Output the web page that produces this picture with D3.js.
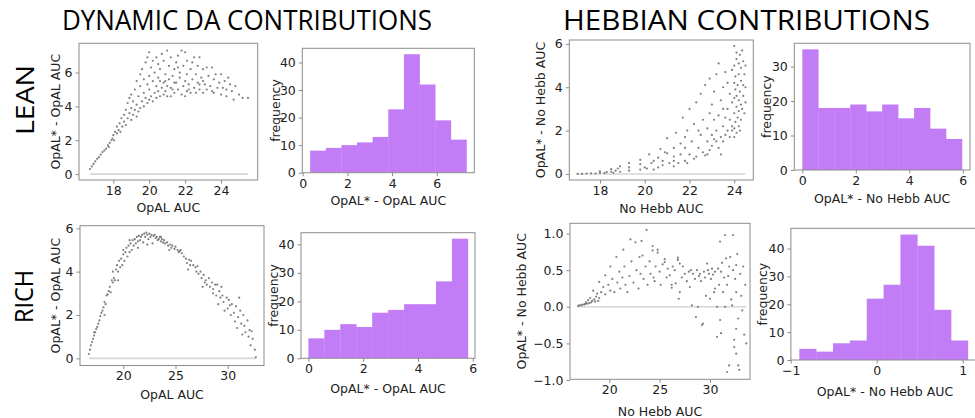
<!DOCTYPE html>
<html>
<head>
<meta charset="utf-8">
<script src="https://cdn.jsdelivr.net/npm/d3@7"></script>
<style>
  body { margin: 0; background: #fff; }
  svg { display: block; }
  text { font-family: "DejaVu Sans", sans-serif; fill: #222; }
</style>
</head>
<body>
<svg id="chart" width="975" height="418"></svg>
<script>
// ---- LEAN environment, dynamic DA: [OpAL AUC, OpAL* - OpAL AUC]
const leanDaPoints = [
  [16.7,0.3],[16.8,0.45],[16.9,0.6],[17.0,0.75],[17.1,0.9],[17.2,1.0],[17.3,1.15],[17.4,1.3],[17.5,1.4],[17.6,1.5],
  [17.7,1.7],[17.8,1.85],[17.9,2.0],[17.75,1.6],[17.95,2.1],[18.0,2.3],[18.05,2.0],[18.1,2.5],[18.2,2.4],[18.2,2.8],
  [18.3,2.6],[18.35,3.0],[18.4,2.5],[18.45,3.3],[18.5,2.8],[18.6,3.1],[18.6,3.5],[18.7,2.9],[18.7,3.8],[18.8,3.3],
  [18.8,4.2],[18.9,3.6],[18.9,4.5],[19.0,3.2],[19.0,3.9],[19.0,4.7],[19.1,3.5],[19.1,4.3],[19.2,3.8],[19.2,5.0],
  [19.3,3.4],[19.3,4.1],[19.3,5.5],[19.4,3.7],[19.4,4.6],[19.5,3.9],[19.5,5.2],[19.5,5.9],[19.6,4.3],[19.6,6.2],
  [19.7,4.0],[19.7,4.8],[19.7,5.6],[19.8,4.5],[19.8,6.6],[19.9,4.2],[19.9,5.3],[19.9,6.9],[20.0,4.4],[20.0,5.0],
  [20.0,5.8],[20.0,7.2],[20.1,4.6],[20.1,6.3],[20.2,4.3],[20.2,5.5],[20.2,6.7],[20.3,4.8],[20.3,6.0],[20.4,4.5],
  [20.4,5.2],[20.4,6.9],[20.5,4.9],[20.5,5.7],[20.5,6.5],[20.6,4.6],[20.6,6.2],[20.7,5.1],[20.7,7.1],[20.8,4.7],
  [20.8,5.4],[20.8,6.7],[20.9,5.9],[20.9,4.9],[21.0,7.3],[21.0,5.2],[21.0,4.6],[21.1,6.4],[21.1,5.6],[21.2,4.6],
  [21.2,6.9],[21.3,5.0],[21.3,5.8],[21.4,6.2],[21.4,4.8],[21.5,6.6],[21.5,5.4],[21.6,5.0],[21.6,7.0],[21.7,5.7],
  [21.7,6.0],[21.8,4.7],[21.8,7.3],[21.9,5.2],[21.9,6.4],[22.0,5.5],[22.0,4.6],[22.0,7.2],[22.1,5.9],[22.1,6.7],
  [22.2,5.0],[22.2,5.3],[22.3,6.2],[22.3,4.8],[22.4,5.6],[22.5,6.9],[22.5,5.1],[22.6,5.9],[22.6,4.8],[22.7,5.4],
  [22.7,6.4],[22.8,6.9],[22.8,5.0],[22.9,5.7],[23.0,4.8],[23.0,6.2],[23.1,5.3],[23.2,6.3],[23.2,5.0],[23.3,5.8],
  [23.4,5.2],[23.5,6.3],[23.5,4.9],[23.6,5.6],[23.7,5.9],[23.8,5.1],[23.9,5.4],[24.0,5.9],[24.0,4.7],[24.1,5.1],
  [24.2,5.5],[24.3,4.6],[24.3,5.0],[24.5,5.3],[24.6,4.9],[24.7,4.4],[24.8,5.2],[25.0,4.7],[25.2,4.5],[25.5,4.5],
  [22.4,6.6],[21.6,6.3],[23.0,5.5],[20.6,5.5],[21.2,5.1],[22.8,5.3],[23.6,4.8],[24.4,5.7],[21.4,5.4],[22.1,4.9],
  [20.9,5.5]
];
const leanDaCounts = [8, 9, 10, 11, 13, 23, 43, 32, 19, 12];
const leanDaBinRange = [0.33, 7.33];

// ---- LEAN environment, Hebbian: [No Hebb AUC, OpAL* - No Hebb AUC]
const leanHebbPoints = [
  [17.0,0.0],[17.2,0.0],[17.4,0.02],[17.6,0.03],[17.8,0.02],[18.0,0.05],[18.0,0.12],[18.2,0.04],[18.3,0.08],[18.5,0.1],
  [18.5,0.22],[18.6,0.05],[18.7,0.15],[18.8,0.25],[18.9,0.1],[18.9,0.35],[19.3,0.15],[19.3,0.3],[19.3,0.5],[19.8,0.2],
  [19.8,0.45],[19.8,0.65],[20.0,0.3],[20.1,0.25],[20.2,0.9],[20.3,0.5],[20.4,0.2],[20.4,0.6],[20.6,0.3],[20.6,0.75],
  [20.7,1.15],[20.8,0.4],[20.8,0.6],[21.0,1.65],[21.0,0.95],[21.3,0.35],[21.3,0.6],[21.3,0.8],[21.3,1.2],[21.4,1.9],
  [21.5,0.5],[21.6,0.9],[21.6,1.4],[21.7,2.6],[21.8,0.6],[21.8,1.2],[21.9,0.5],[21.9,2.0],[22.0,3.0],[22.0,0.9],
  [22.1,1.5],[22.2,2.3],[22.3,3.3],[22.3,0.8],[22.4,1.2],[22.5,1.8],[22.5,3.7],[22.6,2.5],[22.6,1.0],[22.7,4.1],
  [22.8,0.9],[22.8,1.5],[22.8,2.1],[22.9,2.8],[22.9,4.4],[23.0,1.3],[23.0,1.8],[23.0,3.2],[23.1,2.5],[23.1,3.8],
  [23.2,1.5],[23.2,2.0],[23.2,4.6],[23.3,1.2],[23.3,2.7],[23.3,5.1],[23.4,1.7],[23.4,3.4],[23.5,2.2],[23.5,4.0],
  [23.5,1.5],[23.6,2.6],[23.6,4.7],[23.6,1.8],[23.7,3.0],[23.7,2.0],[23.7,4.2],[23.8,1.7],[23.8,2.5],[23.8,3.7],
  [23.9,2.2],[23.9,3.3],[23.9,4.8],[24.0,1.7],[24.0,2.1],[24.0,2.8],[24.0,3.5],[24.0,4.2],[24.0,5.0],[24.0,5.9],
  [24.05,2.4],[24.05,3.9],[24.05,4.5],[24.1,1.9],[24.1,3.1],[24.1,3.6],[24.1,5.3],[24.1,5.6],[24.15,2.6],[24.15,4.1],
  [24.2,2.2],[24.2,2.9],[24.2,3.4],[24.2,4.6],[24.2,5.1],[24.25,3.8],[24.25,5.5],[24.3,2.5],[24.3,3.2],[24.3,4.3],
  [24.3,4.9],[24.35,5.7],[24.35,3.0],[24.4,3.6],[24.4,4.1],[24.4,5.2],[24.45,2.8],[24.45,4.6],[24.5,3.3],[24.5,5.0],
  [24.5,4.0],[23.4,0.9],[22.9,1.1],[22.2,0.7],[21.1,0.5],[20.9,1.0],[22.7,0.85],[23.1,1.6],[23.9,2.0],[24.25,2.0],
  [23.5,3.0],[22.4,2.0],[21.8,1.7]
];
const leanHebbCounts = [35, 18, 18, 19, 17, 19, 15, 18, 12, 9];
const leanHebbBinRange = [0.0, 5.97];

// ---- RICH environment, dynamic DA: [OpAL AUC, OpAL* - OpAL AUC]
const richDaPoints = [
  [16.7,0.2],[16.8,0.4],[16.9,0.6],[17.0,0.75],[17.1,0.9],[17.2,1.05],[17.3,1.2],[17.4,1.35],[17.5,1.45],[17.6,1.6],
  [17.7,1.75],[17.8,1.95],[17.9,2.1],[18.0,2.2],[18.1,2.35],[18.2,2.6],[18.3,2.5],[18.4,2.9],[18.5,2.95],[18.6,3.1],
  [18.7,3.3],[18.8,3.05],[18.9,3.6],[19.0,3.5],[19.0,4.0],[19.1,3.7],[19.2,3.6],[19.3,4.1],[19.4,4.3],[19.5,4.0],
  [19.6,4.5],[19.7,4.2],[19.8,4.6],[19.9,4.3],[20.0,4.8],[20.0,5.0],[20.1,4.5],[20.2,4.9],[20.3,5.1],[20.4,4.7],
  [20.5,5.2],[20.6,4.9],[20.7,5.3],[20.8,5.0],[20.9,5.45],[21.0,5.2],[21.1,5.5],[21.2,5.3],[21.3,5.6],[21.4,5.4],
  [21.5,5.65],[21.6,5.45],[21.7,5.6],[21.8,5.7],[21.9,5.35],[22.0,5.75],[22.1,5.6],[22.2,5.8],[22.3,5.7],[22.4,5.5],
  [22.5,5.75],[22.6,5.6],[22.7,5.7],[22.8,5.3],[22.9,5.65],[23.0,5.7],[23.1,5.55],[23.2,5.6],[23.3,5.45],[23.4,5.5],
  [23.5,5.6],[23.6,5.4],[23.7,5.5],[23.8,5.35],[23.9,5.45],[24.0,5.3],[24.2,5.35],[24.3,5.2],[24.5,5.25],[24.6,5.1],
  [24.7,5.2],[24.9,5.05],[25.0,5.15],[25.2,5.0],[25.3,4.9],[25.5,5.0],[25.6,4.85],[25.8,4.7],[26.0,4.6],[26.1,4.4],
  [26.2,4.1],[26.3,4.55],[26.5,4.5],[26.7,4.3],[26.9,4.2],[27.0,4.0],[27.1,4.25],[27.2,3.9],[27.4,4.0],[27.5,3.7],
  [27.6,3.3],[27.7,3.85],[27.9,3.6],[28.0,3.4],[28.2,3.7],[28.3,3.3],[28.5,3.5],[28.6,3.2],[28.8,3.4],[28.9,2.9],
  [29.0,3.4],[29.1,2.5],[29.2,3.1],[29.3,2.8],[29.5,2.9],[29.6,2.6],[29.7,2.2],[29.9,2.8],[30.0,2.3],[30.1,2.7],
  [30.3,2.0],[30.4,2.5],[30.6,2.1],[30.7,1.7],[30.8,2.4],[30.9,1.4],[31.0,1.9],[31.2,2.2],[31.3,1.6],[31.4,1.1],
  [31.5,2.0],[31.6,1.5],[31.7,1.2],[31.9,1.75],[32.0,1.0],[32.1,1.3],[32.2,0.6],[32.3,1.25],[32.4,0.9],[32.6,0.4],
  [32.7,0.05],[19.5,3.6],[20.6,5.45],[21.4,5.1],[22.3,5.25],[23.6,5.6],[24.4,5.0],[25.4,4.95],[26.4,4.3],[27.8,3.5],
  [28.6,3.0],[29.4,3.3],[30.2,2.45],[31.1,2.8],[18.2,2.0],[17.2,1.2]
];
const richDaCounts = [7, 10, 12, 11, 16, 17, 19, 19, 27, 42];
const richDaBinRange = [0.0, 5.82];

// ---- RICH environment, Hebbian: [No Hebb AUC, OpAL* - No Hebb AUC]
const richHebbPoints = [
  [16.9,0.01],[17.0,0.02],[17.2,0.02],[17.3,0.03],[17.5,0.03],[17.6,0.04],[17.7,0.06],[17.8,0.04],[17.9,0.09],[18.0,0.05],
  [18.1,0.12],[18.2,0.06],[18.3,0.08],[18.4,0.22],[18.5,0.1],[18.6,0.07],[18.7,0.14],[18.8,0.18],[18.9,0.08],[19.0,0.34],
  [19.0,0.12],[19.2,0.2],[19.4,0.27],[19.6,0.43],[19.6,0.17],[19.9,0.3],[20.1,0.55],[20.1,0.22],[20.3,0.38],[20.5,0.2],
  [20.7,0.68],[20.8,0.33],[21.0,0.48],[21.1,0.25],[21.4,0.78],[21.5,0.55],[21.6,0.3],[21.8,0.2],[22.0,0.42],[22.1,0.92],
  [22.2,0.62],[22.4,0.33],[22.6,0.88],[22.7,0.5],[22.9,0.25],[23.0,0.68],[23.2,0.9],[23.3,0.7],[23.4,0.38],[23.6,0.55],
  [23.7,1.05],[23.8,0.3],[24.0,0.62],[24.1,0.45],[24.3,0.83],[24.3,0.77],[24.5,0.35],[24.6,0.55],[24.8,0.78],[24.8,0.74],
  [25.0,0.48],[25.1,0.3],[25.3,0.58],[25.5,0.65],[25.5,0.61],[25.7,0.4],[26.0,0.43],[26.2,0.3],[26.2,0.26],[26.3,0.55],
  [26.5,0.5],[26.8,0.67],[26.8,0.64],[26.9,0.11],[27.0,0.59],[27.0,0.2],[27.2,0.4],[27.5,0.45],[27.7,0.35],[27.9,0.48],
  [28.0,0.27],[28.1,0.5],[28.2,0.02],[28.3,0.45],[28.5,0.38],[28.6,-0.14],[28.7,0.5],[28.8,0.0],[28.9,0.42],[29.0,0.45],
  [29.1,0.35],[29.2,-0.25],[29.3,-0.23],[29.4,0.48],[29.5,0.4],[29.7,0.59],[29.8,0.5],[29.9,0.45],[30.0,0.11],[30.1,0.38],
  [30.2,0.52],[30.3,0.44],[30.4,0.2],[30.5,0.48],[30.7,0.0],[30.7,-0.41],[30.8,0.52],[30.9,0.3],[31.0,-0.18],[31.0,0.89],
  [31.1,-0.36],[31.1,0.48],[31.2,0.6],[31.3,0.2],[31.4,0.4],[31.5,0.98],[31.5,0.0],[31.6,0.66],[31.7,-0.89],[31.7,0.3],
  [31.8,0.42],[31.9,-0.8],[31.9,0.55],[32.0,0.68],[32.1,0.1],[32.2,0.02],[32.3,0.98],[32.3,0.5],[32.4,-0.45],[32.4,-0.55],
  [32.5,0.38],[32.6,0.57],[32.6,0.2],[32.6,-0.3],[32.6,-0.64],[32.7,0.72],[32.8,-0.16],[32.8,-0.8],[32.9,-0.86],[33.0,0.45],
  [33.1,0.15],[33.2,-0.05],[33.3,0.55],[33.4,-0.38],[33.5,0.3],[33.6,-0.5],[30.5,0.25],[29.6,0.15],[27.3,0.55],[26.6,0.32],
  [25.8,0.52],[24.4,0.4],[23.1,0.45],[21.3,0.4]
];
const richHebbCounts = [4, 3, 6, 7, 22, 27, 45, 41, 18, 7];
const richHebbBinRange = [-0.9, 1.06];

// ---- text
const columnTitles = ["DYNAMIC DA CONTRIBUTIONS", "HEBBIAN CONTRIBUTIONS"];
const rowTitles = ["LEAN", "RICH"];

// ---- panel layout (pixel boxes: left, top, right, bottom)
const panels = [
  { kind: "scatter", pts: leanDaPoints, box: [79, 43.3, 257.7, 180], xd: [16.09, 26.04], yd: [-0.35, 7.73],
    xt: [18, 20, 22, 24], yt: [0, 2, 4, 6], fy: d3.format("d"), fx: d3.format("d"),
    xl: "OpAL AUC", yl: "OpAL* - OpAL AUC", xlY: 207, ylX: 55 },
  { kind: "hist", counts: leanDaCounts, range: leanDaBinRange, box: [302.3, 48.3, 474.3, 172.7], xd: [-0.02, 7.68], yd: [0, 45.15],
    xt: [0, 2, 4, 6], yt: [0, 10, 20, 30, 40], fy: d3.format("d"), fx: d3.format("d"),
    xl: "OpAL* - OpAL AUC", yl: "frequency", xlY: 200, ylX: 275 },
  { kind: "scatter", pts: leanHebbPoints, box: [569.3, 40, 753.3, 180], xd: [16.63, 24.85], yd: [-0.28, 6.18],
    xt: [18, 20, 22, 24], yt: [0, 2, 4, 6], fy: d3.format("d"), fx: d3.format("d"),
    xl: "No Hebb AUC", yl: "OpAL* - No Hebb AUC", xlY: 208, ylX: 540.5 },
  { kind: "hist", counts: leanHebbCounts, range: leanHebbBinRange, box: [794.3, 43.3, 970, 170], xd: [-0.3, 6.27], yd: [0, 36.75],
    xt: [0, 2, 4, 6], yt: [0, 10, 20, 30], fy: d3.format("d"), fx: d3.format("d"),
    xl: "OpAL* - No Hebb AUC", yl: "frequency", xlY: 198, ylX: 766.5 },
  { kind: "scatter", pts: richDaPoints, box: [80, 225.7, 264, 365.5], xd: [15.85, 33.48], yd: [-0.33, 6.12],
    xt: [20, 25, 30], yt: [0, 2, 4, 6], fy: d3.format("d"), fx: d3.format("d"),
    xl: "OpAL AUC", yl: "OpAL* - OpAL AUC", xlY: 394, ylX: 55 },
  { kind: "hist", counts: richDaCounts, range: richDaBinRange, box: [301, 232.7, 475, 358.3], xd: [-0.27, 6.08], yd: [0, 44.1],
    xt: [0, 2, 4, 6], yt: [0, 10, 20, 30, 40], fy: d3.format("d"), fx: d3.format("d"),
    xl: "OpAL* - OpAL AUC", yl: "frequency", xlY: 388, ylX: 273.5 },
  { kind: "scatter", pts: richHebbPoints, box: [570, 223.3, 750, 379.3], xd: [16.1, 33.97], yd: [-0.99, 1.14],
    xt: [20, 25, 30], yt: [-1, -0.5, 0, 0.5, 1], fy: d3.format(".1f"), fx: d3.format("d"),
    xl: "No Hebb AUC", yl: "OpAL* - No Hebb AUC", xlY: 411, ylX: 521.5 },
  { kind: "hist", counts: richHebbCounts, range: richHebbBinRange, box: [790.9, 228.3, 976.3, 360], xd: [-0.998, 1.158], yd: [0, 47.25],
    xt: [-1, 0, 1], yt: [0, 10, 20, 30, 40], fy: d3.format("d"), fx: d3.format("d"),
    xl: "OpAL* - No Hebb AUC", yl: "frequency", xlY: 391, ylX: 762.5 }
];

const svg = d3.select("#chart");
const FS = 12.5;
const SPINE = "#8c8c8c";
const BAR = "#c17cf6";
const DOT = "#6a6a6a";

// column and row headings
svg.append("text").attr("x", 247).attr("y", 30).attr("text-anchor", "middle")
  .attr("font-size", 27).attr("textLength", 370).attr("lengthAdjust", "spacingAndGlyphs")
  .style("font-family", "'Open Sans', sans-serif").style("fill", "#000").text(columnTitles[0]);
svg.append("text").attr("x", 746.5).attr("y", 30).attr("text-anchor", "middle")
  .attr("font-size", 27).attr("textLength", 367).attr("lengthAdjust", "spacingAndGlyphs")
  .style("font-family", "'Open Sans', sans-serif").style("fill", "#000").text(columnTitles[1]);
svg.append("text").attr("transform", "translate(34,100) rotate(-90)").attr("text-anchor", "middle")
  .attr("font-size", 25).attr("textLength", 70).attr("lengthAdjust", "spacingAndGlyphs")
  .style("font-family", "'Open Sans', sans-serif").style("fill", "#000").text(rowTitles[0]);
svg.append("text").attr("transform", "translate(33,296.5) rotate(-90)").attr("text-anchor", "middle")
  .attr("font-size", 25).attr("textLength", 53).attr("lengthAdjust", "spacingAndGlyphs")
  .style("font-family", "'Open Sans', sans-serif").style("fill", "#000").text(rowTitles[1]);

panels.forEach((p, i) => {
  const [L, T, R, B] = p.box;
  const x = d3.scaleLinear().domain(p.xd).range([L, R]);
  const y = d3.scaleLinear().domain(p.yd).range([B, T]);
  const g = svg.append("g");

  const clipId = "clip" + i;
  svg.append("clipPath").attr("id", clipId).append("rect")
    .attr("x", L).attr("y", T).attr("width", R - L).attr("height", B - T);
  const plot = g.append("g").attr("clip-path", `url(#${clipId})`);

  if (p.kind === "scatter") {
    const ext = d3.extent(p.pts, d => d[0]);
    plot.append("line")
      .attr("x1", x(ext[0])).attr("x2", x(ext[1]))
      .attr("y1", y(0)).attr("y2", y(0))
      .attr("stroke", "#d6d6d6").attr("stroke-width", 1.6);
    plot.selectAll("circle").data(p.pts).join("circle")
      .attr("cx", d => x(d[0])).attr("cy", d => y(d[1]))
      .attr("r", 1.1).attr("fill", DOT).attr("fill-opacity", 0.85);
  } else {
    const w = (p.range[1] - p.range[0]) / p.counts.length;
    plot.selectAll("rect").data(p.counts).join("rect")
      .attr("x", (c, k) => x(p.range[0] + k * w))
      .attr("width", (c, k) => x(p.range[0] + (k + 1) * w) - x(p.range[0] + k * w) + 0.3)
      .attr("y", c => y(c))
      .attr("height", c => y(0) - y(c))
      .attr("fill", BAR);
  }

  // frame
  g.append("rect").attr("x", L).attr("y", T).attr("width", R - L).attr("height", B - T)
    .attr("fill", "none").attr("stroke", SPINE).attr("stroke-width", 1);

  // axes
  const xa = g.append("g").attr("transform", `translate(0,${B})`)
    .call(d3.axisBottom(x).tickValues(p.xt).tickFormat(p.fx).tickSize(3.5).tickPadding(2.5));
  const ya = g.append("g").attr("transform", `translate(${L},0)`)
    .call(d3.axisLeft(y).tickValues(p.yt).tickFormat(p.fy).tickSize(3.5).tickPadding(3));
  [xa, ya].forEach(a => {
    a.select(".domain").remove();
    a.selectAll("line").attr("stroke", SPINE);
    a.selectAll("text").attr("font-size", FS).style("font-family", "'DejaVu Sans', sans-serif").attr("fill", "#222");
  });

  // axis titles
  g.append("text").attr("x", (L + Math.min(R, 975)) / 2 + (i === 7 ? 2 : 0)).attr("y", p.xlY)
    .attr("text-anchor", "middle").attr("dominant-baseline", "central")
    .attr("font-size", FS).text(p.xl);
  g.append("text").attr("transform", `translate(${p.ylX},${(T + B) / 2}) rotate(-90)`)
    .attr("text-anchor", "middle").attr("dominant-baseline", "central")
    .attr("font-size", FS).text(p.yl);
});
</script>
</body>
</html>
